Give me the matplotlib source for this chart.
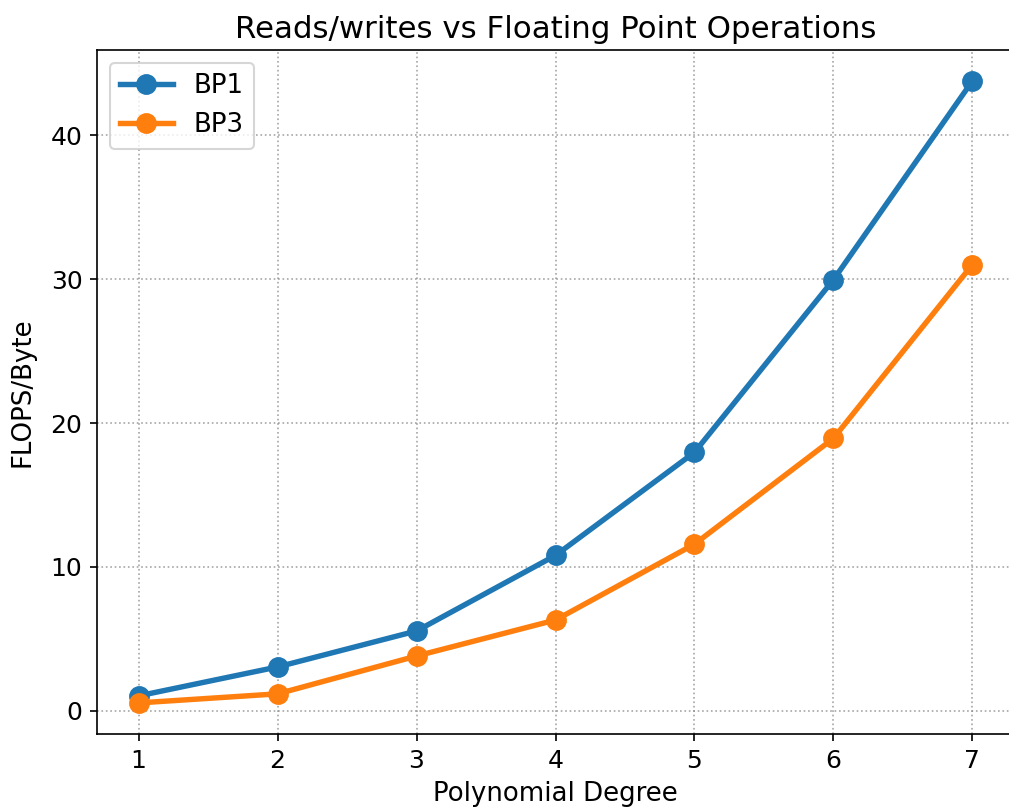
import matplotlib
matplotlib.use("Agg")
import matplotlib.pyplot as plt

degrees = [1, 2, 3, 4, 5, 6, 7]
bp1 = [1.04, 3.05, 5.55, 10.8, 17.96, 29.95, 43.76]
bp3 = [0.55, 1.18, 3.81, 6.31, 11.58, 18.93, 31.0]

W, H, DPI = 1009, 812, 150
fig = plt.figure(figsize=(W / DPI, H / DPI), dpi=DPI)
ax = fig.add_axes([97 / W, 1 - 734 / H, (1014 - 97) / W, (734 - 50) / H])
ax.spines["right"].set_visible(False)

ax.plot(degrees, bp1, marker="o", linewidth=2.6, markersize=9, label="BP1")
ax.plot(degrees, bp3, marker="o", linewidth=2.6, markersize=9, label="BP3")

ax.set_title("Reads/writes vs Floating Point Operations", fontsize=14.8)
ax.set_xlabel("Polynomial Degree", fontsize=12.5)
ax.set_ylabel("FLOPS/Byte", fontsize=12.5, labelpad=7)
ax.tick_params(labelsize=12)
ax.grid(True, linestyle=":", color="gray", alpha=0.7)
ax.legend(loc="upper left", fontsize=12.5)

fig.savefig("out.png", dpi=DPI)
